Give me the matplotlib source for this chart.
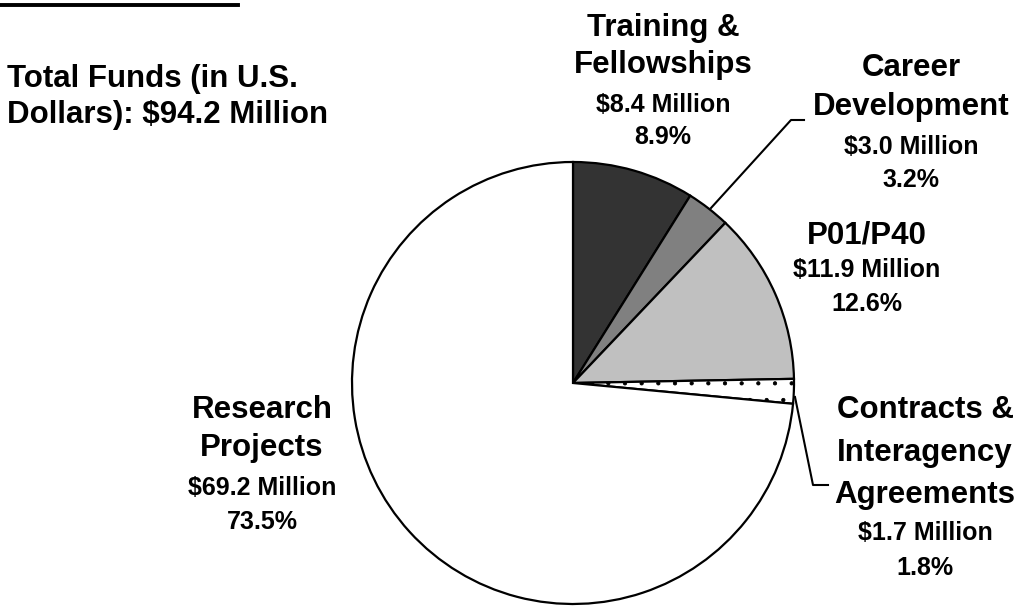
import matplotlib
matplotlib.use("Agg")
import matplotlib.pyplot as plt
from matplotlib.lines import Line2D

plt.rcParams['font.family'] = ['Liberation Sans', 'DejaVu Sans']
plt.rcParams['font.weight'] = 'bold'
plt.rcParams['hatch.linewidth'] = 0.6

# data
names = ['Training &\nFellowships', 'Career\nDevelopment', 'P01/P40',
         'Contracts &\nInteragency\nAgreements', 'Research\nProjects']
millions = [8.4, 3.0, 11.9, 1.7, 69.2]
percents = [8.9, 3.2, 12.6, 1.8, 73.5]
total = 94.2
colors = ['#333333', '#808080', '#c0c0c0', 'white', 'white']
hatches = [None, None, None, '.', None]

W, H = 1021, 608
fig = plt.figure(figsize=(W / 100, H / 100), dpi=100)

def px(x, y):
    # pixel position (from top-left) -> figure fraction
    return x / W, 1 - y / H

# pie: centre (573, 383), radius ~221 px
cx, cy, r = 573, 383, 221
ax = fig.add_axes([(cx - r) / W, 1 - (cy + r) / H, 2 * r / W, 2 * r / H])
wedges, _ = ax.pie(percents, colors=colors, startangle=90, counterclock=False,
                   radius=1, wedgeprops=dict(edgecolor='black', linewidth=1.6))
for w, h in zip(wedges, hatches):
    if h:
        w.set_hatch(h)
ax.set_xlim(-1, 1)
ax.set_ylim(-1, 1)
ax.set_aspect('equal')
ax.axis('off')

big, small = 22.5, 18
# label layout: centre x, y of name lines, y of value lines
layout = [
    (663, [28, 65], [105, 137]),
    (911, [68, 107], [147, 180]),
    (867, [235], [270, 304]),
    (925, [410, 453, 495], [533, 568]),
    (262, [410, 448], [488, 522]),
]
for name, m, p, (x, ny, vy) in zip(names, millions, percents, layout):
    for line, y in zip(name.split('\n'), ny):
        fig.text(*px(x, y), line, ha='center', va='center', fontsize=big)
    vals = ['$%.1f Million' % m, '%.1f%%' % p]
    for line, y in zip(vals, vy):
        fig.text(*px(x, y), line, ha='center', va='center', fontsize=small)

fig.text(*px(7, 79), 'Total Funds (in U.S.', ha='left', va='center', fontsize=big)
fig.text(*px(7, 115), 'Dollars): $%.1f Million' % total, ha='left', va='center',
         fontsize=big)

# leader lines
def leader(pts):
    xs = [p[0] / W for p in pts]
    ys = [1 - p[1] / H for p in pts]
    fig.add_artist(Line2D(xs, ys, color='black', linewidth=1.5))

leader([(711, 208), (791, 120), (804, 120)])
leader([(795, 397), (813, 485), (828, 485)])

# cut-off underline at the top
fig.add_artist(Line2D([0, 238 / W], [1 - 4.5 / H, 1 - 4.5 / H],
                      color='black', linewidth=2.8))

fig.savefig('out.png', dpi=100)
